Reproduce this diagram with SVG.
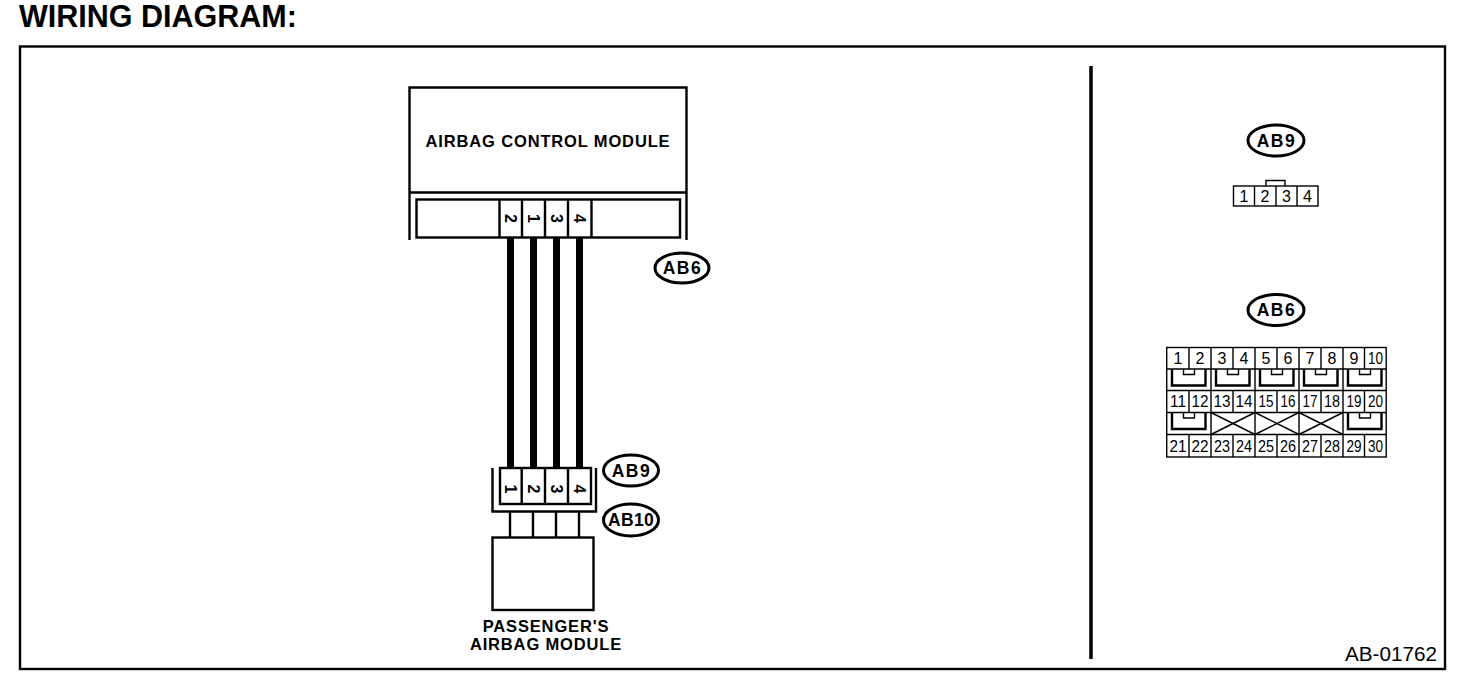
<svg xmlns="http://www.w3.org/2000/svg" width="1472" height="680" viewBox="0 0 1472 680">
<style>
text{font-family:"Liberation Sans",Arial,sans-serif;fill:#000}
.b{font-weight:bold}
.s{fill:none;stroke:#000;stroke-width:2.4}
.t{fill:none;stroke:#000;stroke-width:1.4}
.e{fill:#fff;stroke:#000;stroke-width:3}
.lab{font-size:16.5px;font-weight:bold;letter-spacing:.85px;text-anchor:middle}
.tag{font-size:17.5px;font-weight:bold;letter-spacing:1.5px;text-anchor:middle}
.pin{font-size:16px;font-weight:bold;text-anchor:middle}
.n{font-size:16px;text-anchor:middle}
.w{stroke:#000;stroke-width:7;fill:none}
</style>
<defs>
<g id="u"><path class="s" d="M5 0V16.500H38.500V0"/><path class="t" d="M16.500 0V5.500H27.500V0"/></g>
</defs>
<rect width="1472" height="680" fill="#fff"/>
<text id="title" x="19" y="27" class="b" font-size="30.500">WIRING DIAGRAM:</text>
<rect id="frame" x="20" y="46.500" width="1425" height="622.500" class="s"/>
<path id="divider" d="M1091 66V659" stroke="#000" stroke-width="3.500" fill="none"/>
<text id="code" x="1437" y="661" font-size="20.700" text-anchor="end">AB-01762</text>

<g id="connectors">
<path class="w" d="M510.500 238V468M533.500 238V468M556.500 238V468M579.500 238V468"/>
<path class="s" d="M510 512V537M533 512V537M556 512V537M579 512V537"/>
</g>

<g id="airbag-control-module">
<path class="s" d="M409.500 240V87.500H686.500V240M409.500 192.500H686.500"/>
<text x="548" y="147" class="lab">AIRBAG CONTROL MODULE</text>
<rect x="416.500" y="199.500" width="263.500" height="38" class="s"/>
<path class="s" d="M499.500 199.500V237.500M522 199.500V237.500M545 199.500V237.500M568 199.500V237.500M591.500 199.500V237.500"/>
<text class="pin" transform="translate(505 218.500) rotate(90)">2</text>
<text class="pin" transform="translate(528 218.500) rotate(90)">1</text>
<text class="pin" transform="translate(551 218.500) rotate(90)">3</text>
<text class="pin" transform="translate(574 218.500) rotate(90)">4</text>
</g>

<g id="tag-ab6-left"><ellipse cx="682" cy="268" rx="27" ry="15" class="e"/><text x="682.500" y="274" class="tag">AB6</text></g>

<g id="connector-ab9-left">
<path class="s" d="M492.500 468V511.500H596V468"/>
<rect x="500" y="468" width="91" height="36" class="s"/>
<path class="s" d="M521.700 468V504M545 468V504M568 468V504"/>
<text class="pin" transform="translate(505 489) rotate(90)">1</text>
<text class="pin" transform="translate(528 489) rotate(90)">2</text>
<text class="pin" transform="translate(551 489) rotate(90)">3</text>
<text class="pin" transform="translate(574 489) rotate(90)">4</text>
</g>
<g id="tag-ab9-left"><ellipse cx="631" cy="470.500" rx="27.500" ry="15.500" class="e"/><text x="631.500" y="476.500" class="tag">AB9</text></g>
<g id="tag-ab10-left"><ellipse cx="631" cy="520" rx="27.500" ry="16" class="e"/><text x="631" y="526" class="tag" style="letter-spacing:.3px">AB10</text></g>

<g id="passenger-airbag-module">
<rect x="492.500" y="537.500" width="101" height="72.500" class="s"/>
<text x="546" y="632" class="lab">PASSENGER'S</text>
<text x="546" y="650" class="lab">AIRBAG MODULE</text>
</g>

<g id="tag-ab9-right"><ellipse cx="1276" cy="140.500" rx="28" ry="15.500" class="e"/><text x="1276.500" y="146.500" class="tag">AB9</text></g>
<g id="connector-ab9-right">
<path class="t" d="M1266 186V180.500H1285V186"/>
<rect x="1233.500" y="186" width="84.500" height="20" class="t"/>
<path class="t" d="M1254.500 186V206M1276 186V206M1297 186V206"/>
<text x="1244" y="202" class="n">1</text><text x="1265" y="202" class="n">2</text><text x="1286.500" y="202" class="n">3</text><text x="1307.500" y="202" class="n">4</text>
</g>

<g id="tag-ab6-right"><ellipse cx="1276" cy="310" rx="28" ry="15.500" class="e"/><text x="1276.500" y="316" class="tag">AB6</text></g>
<g id="connector-ab6-right">
<rect x="1166.700" y="347.500" width="219.500" height="109.500" class="t"/>
<path class="t" d="M1166.700 369H1386M1166.700 390.500H1386M1166.700 412.500H1386M1166.700 434.500H1386"/>
<path class="t" d="M1211 347.500V457M1255 347.500V457M1299 347.500V457M1343 347.500V457"/>
<path class="t" d="M1189 347.500V369M1233 347.500V369M1277 347.500V369M1321 347.500V369M1364.500 347.500V369M1189 390.500V412.500M1233 390.500V412.500M1277 390.500V412.500M1321 390.500V412.500M1364.500 390.500V412.500M1189 434.500V457M1233 434.500V457M1277 434.500V457M1321 434.500V457M1364.500 434.500V457"/>
<path class="t" d="M1211 412.500L1255 434.500M1255 412.500L1211 434.500M1255 412.500L1299 434.500M1299 412.500L1255 434.500M1299 412.500L1343 434.500M1343 412.500L1299 434.500"/>
<use href="#u" x="1167" y="369"/><use href="#u" x="1211" y="369"/><use href="#u" x="1255" y="369"/><use href="#u" x="1299" y="369"/><use href="#u" x="1343" y="369"/>
<use href="#u" x="1167" y="412.500"/><use href="#u" x="1343" y="412.500"/>
<text x="1178" y="364" class="n">1</text><text x="1200" y="364" class="n">2</text><text x="1222" y="364" class="n">3</text><text x="1244" y="364" class="n">4</text><text x="1266" y="364" class="n">5</text><text x="1288" y="364" class="n">6</text><text x="1310" y="364" class="n">7</text><text x="1332" y="364" class="n">8</text><text x="1354" y="364" class="n">9</text><text x="1375.500" y="364" class="n" textLength="15" lengthAdjust="spacingAndGlyphs">10</text>
<text x="1178" y="407" class="n" textLength="16" lengthAdjust="spacingAndGlyphs">11</text><text x="1200" y="407" class="n" textLength="17" lengthAdjust="spacingAndGlyphs">12</text><text x="1222" y="407" class="n" textLength="17" lengthAdjust="spacingAndGlyphs">13</text><text x="1244" y="407" class="n" textLength="17" lengthAdjust="spacingAndGlyphs">14</text><text x="1266" y="407" class="n" textLength="15" lengthAdjust="spacingAndGlyphs">15</text><text x="1288" y="407" class="n" textLength="15" lengthAdjust="spacingAndGlyphs">16</text><text x="1310" y="407" class="n" textLength="15" lengthAdjust="spacingAndGlyphs">17</text><text x="1332" y="407" class="n" textLength="16" lengthAdjust="spacingAndGlyphs">18</text><text x="1354" y="407" class="n" textLength="15" lengthAdjust="spacingAndGlyphs">19</text><text x="1375.500" y="407" class="n" textLength="15" lengthAdjust="spacingAndGlyphs">20</text>
<text x="1178" y="452" class="n" textLength="17" lengthAdjust="spacingAndGlyphs">21</text><text x="1200" y="452" class="n" textLength="17" lengthAdjust="spacingAndGlyphs">22</text><text x="1222" y="452" class="n" textLength="16" lengthAdjust="spacingAndGlyphs">23</text><text x="1244" y="452" class="n" textLength="16" lengthAdjust="spacingAndGlyphs">24</text><text x="1266" y="452" class="n" textLength="16" lengthAdjust="spacingAndGlyphs">25</text><text x="1288" y="452" class="n" textLength="16" lengthAdjust="spacingAndGlyphs">26</text><text x="1310" y="452" class="n" textLength="16" lengthAdjust="spacingAndGlyphs">27</text><text x="1332" y="452" class="n" textLength="16" lengthAdjust="spacingAndGlyphs">28</text><text x="1354" y="452" class="n" textLength="15" lengthAdjust="spacingAndGlyphs">29</text><text x="1375.500" y="452" class="n" textLength="15" lengthAdjust="spacingAndGlyphs">30</text>
</g>
</svg>
